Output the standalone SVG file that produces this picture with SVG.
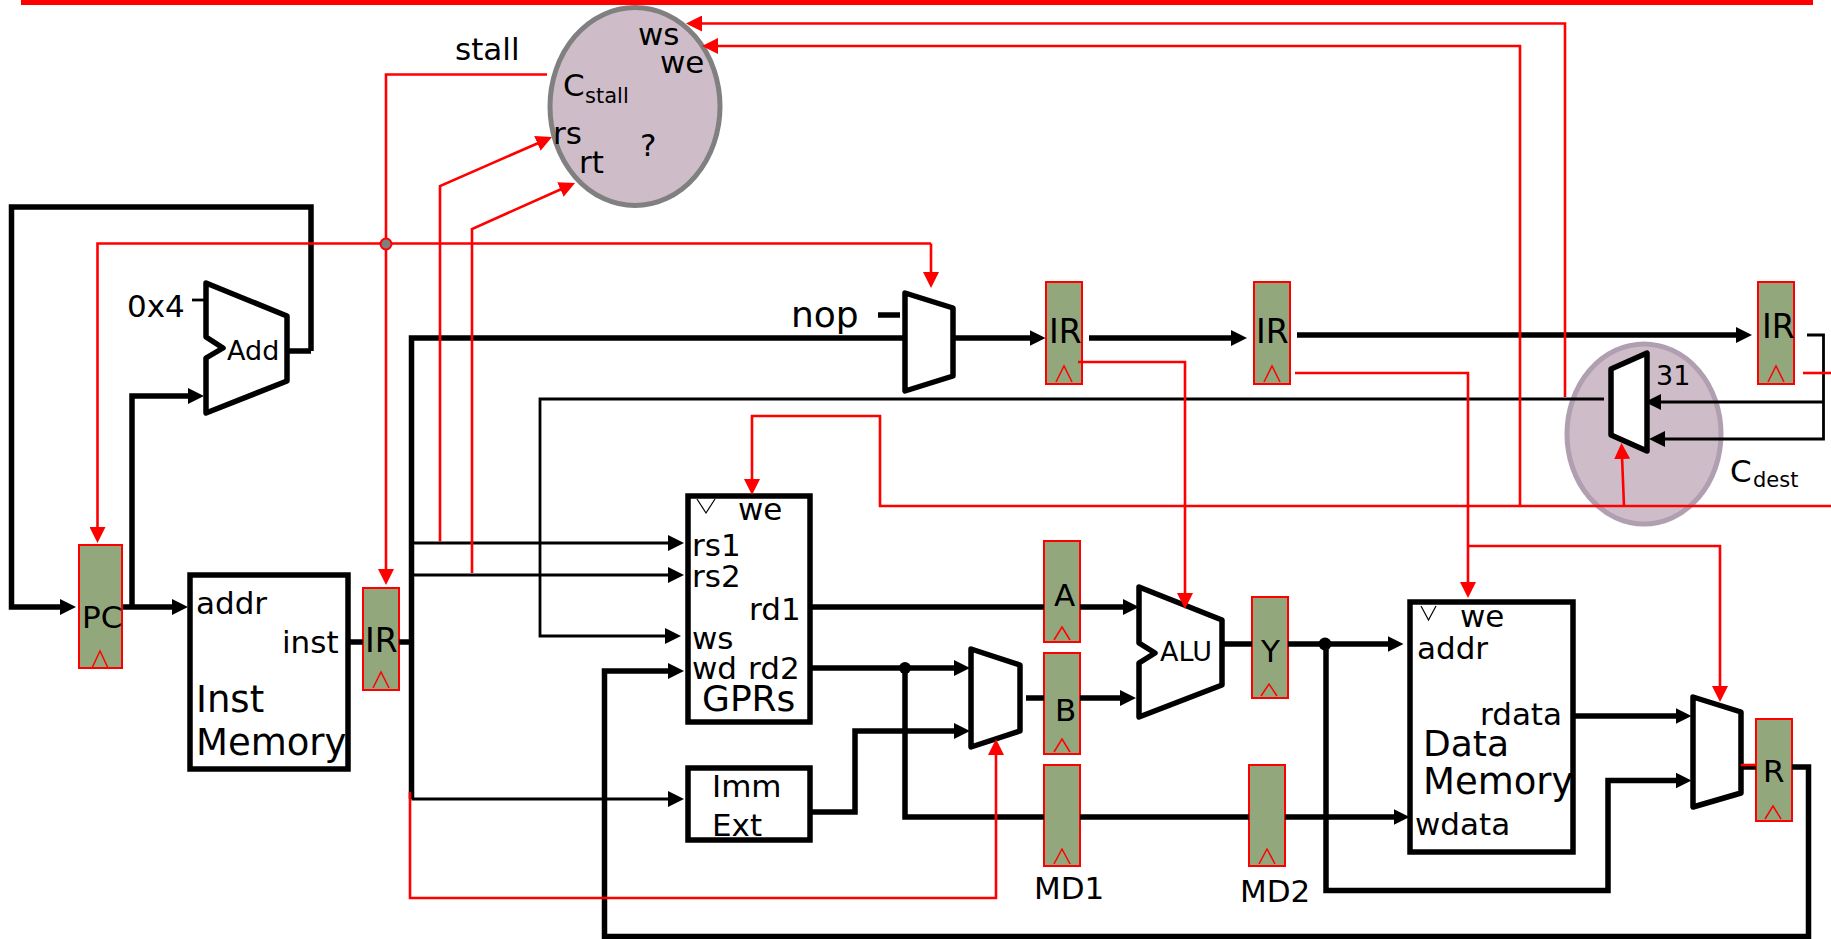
<svg xmlns="http://www.w3.org/2000/svg" width="1831" height="939" viewBox="0 0 1831 939">
<style>
text{font-family:"DejaVu Sans",Verdana,sans-serif;fill:#000;font-size:31px}
.s{font-size:21px}.m{font-size:27px}.l{font-size:36px}.k{font-size:37px}.t{font-size:33px}
.box{fill:#fff;stroke:#000;stroke-width:5.500;stroke-linejoin:miter}
.mux{fill:#fff;stroke:#000;stroke-width:5.500;stroke-linejoin:round}
.reg{fill:#93a77d;stroke:#f00;stroke-width:2}
.clk{fill:none;stroke:#f00;stroke-width:1.500}
.tri{fill:none;stroke:#000;stroke-width:1.200}
.b5{fill:none;stroke:#000;stroke-width:5.500}
.b3{fill:none;stroke:#000;stroke-width:2.800}
.r2{fill:none;stroke:#f00;stroke-width:2.600}
</style>
<defs>
<marker id="ha" markerUnits="userSpaceOnUse" markerWidth="16" markerHeight="16" refX="8" refY="8" orient="auto"><path d="M0 0L16 8L0 16Z" fill="#000"/></marker>
<marker id="hr" markerUnits="userSpaceOnUse" markerWidth="16" markerHeight="16" refX="8" refY="8" orient="auto"><path d="M0 0L16 8L0 16Z" fill="#f00"/></marker>
</defs>
<rect x="21" y="0" width="1792" height="5" fill="#f00"/>
<g id="cstall"><ellipse cx="635" cy="106.500" rx="85" ry="99" fill="#cebdc8" stroke="#808080" stroke-width="5"/>
<text x="638" y="45">ws</text><text x="660" y="73">we</text><text x="563" y="96">C</text><text class="s" x="585" y="103">stall</text><text x="553" y="144">rs</text><text x="579" y="173">rt</text><text x="640" y="156">?</text></g>
<g id="cdest"><ellipse cx="1644" cy="434" rx="77" ry="90" fill="#cebdc8" stroke="#b09fb0" stroke-width="5"/>
<text x="1730" y="482">C</text><text class="s" x="1753" y="487">dest</text></g>
<g id="add"><path class="mux" d="M206 283L287 316V381L206 413V358L223 348L206 337Z"/><text class="m" x="227" y="360">Add</text><text x="127" y="317">0x4</text></g>
<g id="mux-nop"><path class="mux" d="M905 293L953 308V376L905 391Z"/><text class="l" x="791" y="327">nop</text></g>
<g id="mux-b"><path class="mux" d="M971 649L1020 665V731L971 747Z"/></g>
<g id="mux-r"><path class="mux" d="M1693 697L1741 712V793L1693 807Z"/></g>
<g id="mux-dest"><path class="mux" d="M1611 369L1647 353V451L1611 435Z"/><text class="m" x="1656" y="385">31</text></g>
<g id="alu"><path class="mux" d="M1139 587L1222 620V685L1139 717V663L1155 653L1139 643Z"/><text class="m" x="1160" y="661">ALU</text></g>
<g id="pc"><rect class="reg" x="79" y="545" width="43" height="123"/><path class="clk" d="M92 668L100 651L108 668"/><text x="82" y="628">PC</text></g>
<g id="ir0"><rect class="reg" x="363" y="588" width="36" height="102"/><path class="clk" d="M373 688L381 672L389 688"/><text class="t" x="365" y="652">IR</text></g>
<g id="ir1"><rect class="reg" x="1046" y="282" width="36" height="102"/><path class="clk" d="M1056 382L1064 366L1072 382"/><text class="t" x="1049" y="343">IR</text></g>
<g id="ir2"><rect class="reg" x="1254" y="282" width="36" height="102"/><path class="clk" d="M1264 382L1272 366L1280 382"/><text class="t" x="1256" y="343">IR</text></g>
<g id="ir3"><rect class="reg" x="1758" y="282" width="36" height="102"/><path class="clk" d="M1768 382L1776 366L1784 382"/><text class="t" x="1762" y="338">IR</text></g>
<g id="a"><rect class="reg" x="1044" y="541" width="36" height="101"/><path class="clk" d="M1054 640L1062 627L1070 640"/><text x="1054" y="606">A</text></g>
<g id="b"><rect class="reg" x="1044" y="653" width="36" height="101"/><path class="clk" d="M1054 752L1062 739L1070 752"/><text x="1055" y="721">B</text></g>
<g id="md1"><rect class="reg" x="1044" y="765" width="36" height="101"/><path class="clk" d="M1054 864L1062 849L1070 864"/><text x="1034" y="899">MD1</text></g>
<g id="md2"><rect class="reg" x="1249" y="765" width="36" height="101"/><path class="clk" d="M1259 864L1267 849L1275 864"/><text x="1240" y="902">MD2</text></g>
<g id="y"><rect class="reg" x="1252" y="597" width="36" height="101"/><path class="clk" d="M1261 696L1269 684L1277 696"/><text x="1261" y="662">Y</text></g>
<g id="r"><rect class="reg" x="1756" y="719" width="36" height="102"/><path class="clk" d="M1765 819L1773 806L1781 819"/><text x="1763" y="782">R</text></g>
<g id="imem"><rect class="box" x="190" y="575" width="158" height="194"/><text x="196" y="614">addr</text><text x="282" y="653">inst</text><text class="k" x="196" y="712">Inst</text><text class="k" x="196" y="755">Memory</text></g>
<g id="gprs"><rect class="box" x="688" y="496" width="122" height="226"/><path class="tri" d="M697 499L706 513L715 499"/><text x="738" y="520">we</text><text x="692" y="556">rs1</text><text x="692" y="587">rs2</text><text x="749" y="620">rd1</text><text x="692" y="649">ws</text><text x="692" y="679">wd</text><text x="748" y="679">rd2</text><text class="l" x="702" y="711">GPRs</text></g>
<g id="immext"><rect class="box" x="688" y="768" width="122" height="72"/><text x="712" y="797">Imm</text><text x="712" y="836">Ext</text></g>
<g id="dmem"><rect class="box" x="1410" y="602" width="163" height="250"/><path class="tri" d="M1421 606L1428.500 620L1436 606"/><text x="1460" y="627">we</text><text x="1417" y="659">addr</text><text x="1480" y="725">rdata</text><text class="l" x="1423" y="756">Data</text><text class="k" x="1423" y="794">Memory</text><text x="1415" y="835">wdata</text></g>
<text x="455" y="60">stall</text>
<g id="connectors">
<path class="b5" d="M311 351V207H11.500V607H68" marker-end="url(#ha)"/>
<path class="b5" d="M287 351H311"/>
<path class="b3" d="M192 300H206"/>
<path class="b5" d="M123 607H180" marker-end="url(#ha)"/>
<path class="b5" d="M132 607V396H196" marker-end="url(#ha)"/>
<path class="b5" d="M350 642H363M399 642H411.500"/>
<path class="b5" d="M411.500 799V338H905"/>
<path class="b5" d="M878 315H900"/>
<path class="b5" d="M953 338H1037.500" marker-end="url(#ha)"/>
<path class="b5" d="M1089 338H1239" marker-end="url(#ha)"/>
<path class="b5" d="M1297 335H1744" marker-end="url(#ha)"/>
<path class="b3" d="M411.500 543H676" marker-end="url(#ha)"/>
<path class="b3" d="M411.500 575H676" marker-end="url(#ha)"/>
<path class="b3" d="M411.500 799H676" marker-end="url(#ha)"/>
<path class="b3" d="M1604 399H540V636H673" marker-end="url(#ha)"/>
<path class="b3" d="M1807 335H1823.500V439H1657" marker-end="url(#ha)"/>
<path class="b3" d="M1823.500 402H1653" marker-end="url(#ha)"/>
<path class="b5" d="M1792 767H1808.500V936.500H604.500V671H676" marker-end="url(#ha)"/>
<path class="b5" d="M810 607H1044M1080 607H1131" marker-end="url(#ha)"/>
<path class="b5" d="M810 668H962" marker-end="url(#ha)"/>
<circle cx="905" cy="668" r="6"/>
<path class="b5" d="M905 668V817H1044M1080 817H1249M1285 817H1401.500" marker-end="url(#ha)"/>
<path class="b5" d="M810 812H855V731H962" marker-end="url(#ha)"/>
<path class="b5" d="M1026 698H1044M1080 698H1128" marker-end="url(#ha)"/>
<path class="b5" d="M1222 644H1252M1288 644H1395.500" marker-end="url(#ha)"/>
<circle cx="1325" cy="644" r="6.500"/>
<path class="b5" d="M1326 644V890.500H1608V780.500H1683.500" marker-end="url(#ha)"/>
<path class="b5" d="M1575 716H1683.500" marker-end="url(#ha)"/>
<path class="b5" d="M1741 767H1756"/>
<path class="r2" d="M1741 765H1756"/>
<path class="r2" d="M547 74.500H386V577" marker-end="url(#hr)"/>
<path class="r2" d="M931 243.500H97.500V535" marker-end="url(#hr)"/>
<path class="r2" d="M931 243.500V280" marker-end="url(#hr)"/>
<circle cx="386" cy="244" r="5.500" fill="#808080" stroke="#f00" stroke-width="2"/>
<path class="r2" d="M440 541.500V186L544.700 140.200" marker-end="url(#hr)"/>
<path class="r2" d="M472 573V229L567.700 186.300" marker-end="url(#hr)"/>
<path class="r2" d="M1565 397V23.500H694" marker-end="url(#hr)"/>
<path class="r2" d="M1520 505V46H710" marker-end="url(#hr)"/>
<path class="r2" d="M1831 506H880V416H752V487" marker-end="url(#hr)"/>
<path class="r2" d="M1624 506L1621.800 451" marker-end="url(#hr)"/>
<path class="r2" d="M1078 362H1185V601" marker-end="url(#hr)"/>
<path class="r2" d="M1295 373H1468V590" marker-end="url(#hr)"/>
<path class="r2" d="M1468 546H1720V694" marker-end="url(#hr)"/>
<path class="r2" d="M1803 373H1831"/>
<path class="r2" d="M410 792V898H996V747" marker-end="url(#hr)"/>
</g>
</svg>
